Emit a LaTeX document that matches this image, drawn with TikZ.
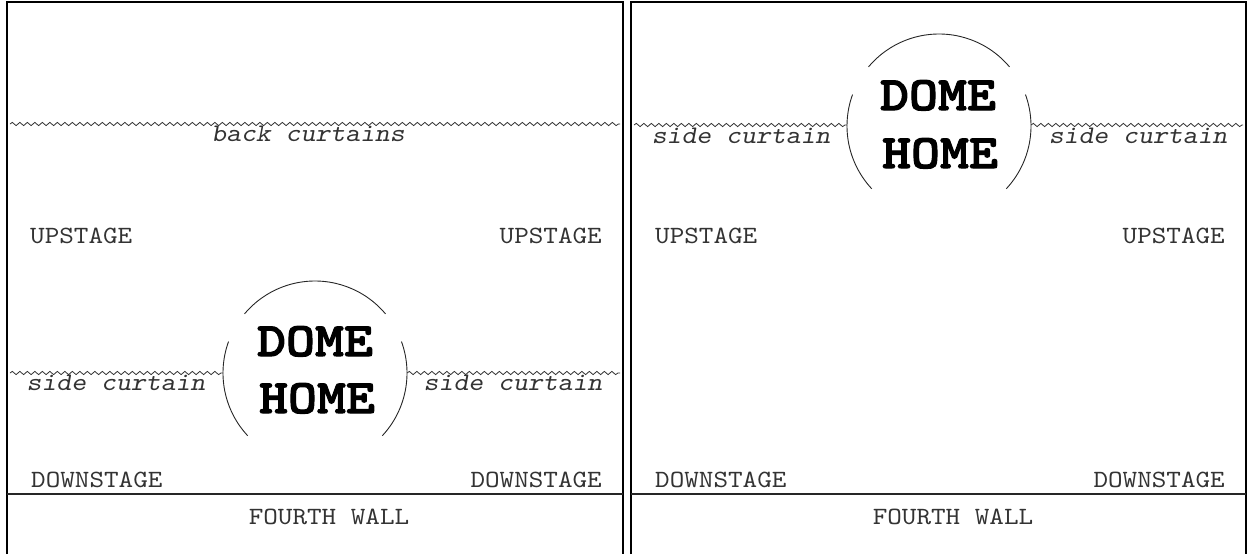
\documentclass[tikz,border=0pt]{standalone}
\usepackage{fontspec}
\newfontfamily\domefont{lmmonolt10-bold.otf}[FakeBold=2.2,FakeStretch=1.15]
\newfontfamily\lblfont{lmmono10-regular.otf}[FakeStretch=1.12]
\newfontfamily\slfont{lmmonoslant10-regular.otf}[FakeStretch=1.12]
\usetikzlibrary{decorations.pathmorphing}
\begin{document}
\begin{tikzpicture}[x=1pt,y=-1pt,
  panel/.style={line width=2.4pt,black},
  floor/.style={line width=1.3pt,black!85},
  dome/.style={line width=0.9pt,black!85},
  curtain/.style={line width=0.8pt,black!80,decorate,decoration={snake,segment length=7.5pt,amplitude=1.6pt}},
  lbl/.style={inner sep=0pt,anchor=base,text=black!80,font=\lblfont\fontsize{24.8}{28}\selectfont},
  ilbl/.style={inner sep=0pt,anchor=base,text=black!80,font=\slfont\fontsize{25.3}{28}\selectfont},
  big/.style={inner sep=0pt,anchor=base,text=black,font=\domefont\fontsize{48}{52}\selectfont}]
\useasboundingbox (0,0) rectangle (1247,554);
% panels
\draw[panel] (7,554) -- (7,2) -- (623,2) -- (623,554);
\draw[panel] (631,554) -- (631,2) -- (1246,2) -- (1246,554);
\draw[floor] (7,494) -- (623,494);
\draw[floor] (631,494) -- (1246,494);
% ---------- left panel ----------
\coordinate (bcL) at (10,124);
\coordinate (bcR) at (620,124);
\draw[curtain] (bcL) -- (bcR);
\node[ilbl] (back) at (308,141) {back curtains};
\node[lbl,anchor=base west] (upL1) at (30,243) {UPSTAGE};
\node[lbl,anchor=base east] (upR1) at (602,243) {UPSTAGE};
\node[lbl,anchor=base west] (dnL1) at (31,487) {DOWNSTAGE};
\node[lbl,anchor=base east] (dnR1) at (602,487) {DOWNSTAGE};
\node[lbl] (fw1) at (329,524) {FOURTH WALL};
\coordinate (d1) at (315,373);
\draw[dome] (d1) ++(-40:92) arc[start angle=-40,end angle=-140,radius=92];
\draw[dome] (d1) ++(-160:92) arc[start angle=-160,end angle=-223,radius=92];
\draw[dome] (d1) ++(43:92) arc[start angle=43,end angle=-20,radius=92];
\coordinate (scL1a) at (10,373);
\coordinate (scL1b) at (223,373);
\coordinate (scR1a) at (407,373);
\coordinate (scR1b) at (620,373);
\draw[curtain] (scL1a) -- (scL1b);
\draw[curtain] (scR1a) -- (scR1b);
\node[ilbl] (sc1) at (116,390) {side curtain};
\node[ilbl] (sc2) at (513,390) {side curtain};
\node[big] (dome1) at (315,356) {DOME};
\node[big] (home1) at (317,413) {HOME};
% ---------- right panel ----------
\coordinate (d2) at (939,126);
\draw[dome] (d2) ++(-40:92) arc[start angle=-40,end angle=-140,radius=92];
\draw[dome] (d2) ++(-160:92) arc[start angle=-160,end angle=-223,radius=92];
\draw[dome] (d2) ++(43:92) arc[start angle=43,end angle=-20,radius=92];
\coordinate (scL2a) at (634,125);
\coordinate (scL2b) at (847,125);
\coordinate (scR2a) at (1031,125);
\coordinate (scR2b) at (1243,125);
\draw[curtain] (scL2a) -- (scL2b);
\draw[curtain] (scR2a) -- (scR2b);
\node[ilbl] (sc3) at (741,143) {side curtain};
\node[ilbl] (sc4) at (1138,143) {side curtain};
\node[big] (dome2) at (938,110) {DOME};
\node[big] (home2) at (940,168) {HOME};
\node[lbl,anchor=base west] (upL2) at (655,243) {UPSTAGE};
\node[lbl,anchor=base east] (upR2) at (1225,243) {UPSTAGE};
\node[lbl,anchor=base west] (dnL2) at (655,487) {DOWNSTAGE};
\node[lbl,anchor=base east] (dnR2) at (1225,487) {DOWNSTAGE};
\node[lbl] (fw2) at (953,524) {FOURTH WALL};
\end{tikzpicture}
\end{document}
